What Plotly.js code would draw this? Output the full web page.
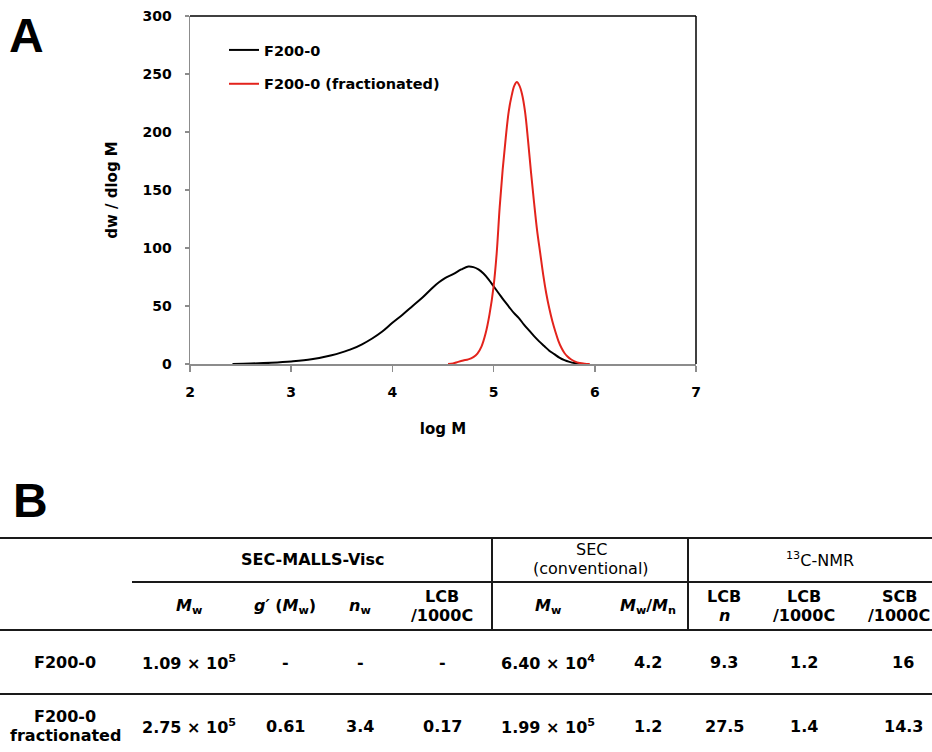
<!DOCTYPE html>
<html>
<head>
<meta charset="utf-8">
<script src="https://cdn.plot.ly/plotly-3.0.1.min.js"></script>
<style>html,body{margin:0;padding:0;background:#fff;}#chart{width:932px;height:752px;}</style>
</head>
<body>
<div id="chart"></div>
<script>
// ---- Panel A data ----
const logM_F200 = [2.42, 2.6, 2.8, 3.0, 3.2, 3.4, 3.5, 3.6, 3.7, 3.8, 3.9, 4.0, 4.1, 4.2, 4.3, 4.4, 4.46, 4.52, 4.6, 4.68, 4.75, 4.8, 4.85, 4.9, 4.95, 5.0, 5.05, 5.1, 5.15, 5.2, 5.25, 5.3, 5.35, 5.4, 5.45, 5.5, 5.55, 5.6, 5.65, 5.7, 5.75, 5.8, 5.85, 5.9];
const dw_F200   = [0, 0.4, 1.1, 2.2, 4, 7.5, 10, 13, 17, 22, 28, 35.5, 42.5, 50, 57.5, 66, 70.5, 74, 77.5, 81.5, 84, 83.5, 81.5, 78, 73, 67, 61, 55, 49.5, 44, 39.5, 34, 29, 24, 19.5, 15.5, 11.5, 8.5, 5.5, 3.3, 1.8, 0.8, 0.3, 0];
const logM_frac = [4.55, 4.6, 4.65, 4.7, 4.75, 4.8, 4.84, 4.88, 4.92, 4.96, 5.0, 5.03, 5.06, 5.09, 5.12, 5.15, 5.18, 5.205, 5.23, 5.255, 5.28, 5.31, 5.34, 5.37, 5.4, 5.43, 5.46, 5.49, 5.52, 5.55, 5.58, 5.61, 5.64, 5.67, 5.7, 5.73, 5.76, 5.8, 5.85, 5.9, 5.95];
const dw_frac   = [0, 0.5, 1.8, 3, 4, 6, 9, 15, 26, 43, 67, 95, 135, 168, 195, 218, 232, 240, 243, 240, 233, 218, 193, 165, 139, 115, 96, 77, 61, 48, 37, 28, 20, 14, 9.5, 6.5, 4.3, 2.3, 0.8, 0.2, 0];
const seriesNames = ['F200-0', 'F200-0 (fractionated)'];
const xTickVals = [2, 3, 4, 5, 6, 7];
const yTickVals = [0, 50, 100, 150, 200, 250, 300];

// ---- Panel B table data ----
const groupHeaders = ['SEC-MALLS-Visc', 'SEC<br>(conventional)', '<sup>13</sup>C-NMR'];
const colHeaders = ['<i>M</i><sub>w</sub>', '<i>g′</i> (<i>M</i><sub>w</sub>)', '<i>n</i><sub>w</sub>', 'LCB<br>/1000C',
                    '<i>M</i><sub>w</sub>', '<i>M</i><sub>w</sub>/<i>M</i><sub>n</sub>',
                    'LCB<br><i>n</i>', 'LCB<br>/1000C', 'SCB<br>/1000C'];
const rowLabels = ['F200-0', 'F200-0<br>fractionated'];
const rowF200 = ['1.09 × 10<sup>5</sup>', '-', '-', '-', '6.40 × 10<sup>4</sup>', '4.2', '9.3', '1.2', '16'];
const rowFrac = ['2.75 × 10<sup>5</sup>', '0.61', '3.4', '0.17', '1.99 × 10<sup>5</sup>', '1.2', '27.5', '1.4', '14.3'];

// ---- layout helpers (pixel -> paper) ----
const W = 932, H = 752;
const px = x => x / W;
const py = y => 1 - y / H;
const FONT = 'DejaVu Sans, Liberation Sans, Arial, sans-serif';

const traces = [
  {x: logM_F200, y: dw_F200, name: seriesNames[0], legendgroup: 'a', type: 'scatter', mode: 'lines',
   line: {color: '#000000', width: 2, shape: 'spline', smoothing: 1}},
  {x: logM_frac, y: dw_frac, name: seriesNames[1], legendgroup: 'b', type: 'scatter', mode: 'lines',
   line: {color: '#e3231c', width: 2, shape: 'spline', smoothing: 1}}
];

const shapes = [];
const annotations = [];

// frame top and right (black)
shapes.push({type: 'line', xref: 'x domain', yref: 'y domain', x0: 0, x1: 1, y0: 1, y1: 1, line: {color: '#000', width: 1.5}});
shapes.push({type: 'line', xref: 'x domain', yref: 'y domain', x0: 1, x1: 1, y0: 0, y1: 1, line: {color: '#000', width: 1.5}});

// Panel letters
annotations.push({xref: 'paper', yref: 'paper', x: px(26), y: py(36), xanchor: 'center', yanchor: 'middle', showarrow: false,
  text: 'A', font: {family: 'Liberation Sans, Arial, sans-serif', size: 48, weight: 'bold', color: '#000'}});
annotations.push({xref: 'paper', yref: 'paper', x: px(30), y: py(500), xanchor: 'center', yanchor: 'middle', showarrow: false,
  text: 'B', font: {family: 'Liberation Sans, Arial, sans-serif', size: 48, weight: 'bold', color: '#000'}});

// Table lines
function hline(y, x0, x1, w) {
  shapes.push({type: 'line', xref: 'paper', yref: 'paper', x0: px(x0), x1: px(x1), y0: py(y), y1: py(y), line: {color: '#1a1a1a', width: w || 2}});
}
function vline(x, y0, y1) {
  shapes.push({type: 'line', xref: 'paper', yref: 'paper', x0: px(x), x1: px(x), y0: py(y0), y1: py(y1), line: {color: '#1a1a1a', width: 2}});
}
hline(538, 0, 932);
hline(582, 132, 932);
hline(630, 0, 932);
hline(694, 0, 932);
vline(492, 538, 630);
vline(688, 538, 630);

function cell(text, cx, cy, bold, lineGap) {
  const lines = text.split('<br>');
  const gap = lineGap || 18.5;
  lines.forEach((t, i) => {
    const y = cy + (i - (lines.length - 1) / 2) * gap;
    annotations.push({xref: 'paper', yref: 'paper', x: px(cx), y: py(y), xanchor: 'center', yanchor: 'middle',
      showarrow: false, text: t, font: {family: FONT, size: 16, weight: bold ? 'bold' : 'normal', color: '#000'}});
  });
}

const groupX = [313, 591, 820];
const groupY = [559, 558.5, 559];
const groupBold = [true, false, false];
groupHeaders.forEach((t, i) => cell(t, groupX[i], groupY[i], groupBold[i], 19));

const colX = [189, 285, 360, 442, 548, 648, 724, 804, 899];
colHeaders.forEach((t, i) => cell(t, colX[i], 606, true, 18.5));

const rowY = [662, 726];
rowLabels.forEach((t, i) => cell(t, 65, rowY[i], true, 19.5));
rowF200.forEach((t, i) => cell(t, colX[i] + (i === 8 ? 4 : 0), rowY[0], true));
rowFrac.forEach((t, i) => cell(t, colX[i] + (i === 8 ? 4 : 0), rowY[1], true));

const layout = {
  width: W, height: H,
  margin: {l: 0, r: 0, t: 0, b: 0},
  paper_bgcolor: '#ffffff', plot_bgcolor: '#ffffff',
  showlegend: true,
  legend: {x: px(224), y: py(34), xanchor: 'left', yanchor: 'top', bgcolor: 'rgba(0,0,0,0)',
           traceorder: 'grouped', tracegroupgap: 12,
           font: {family: FONT, size: 14.5, weight: 'bold', color: '#000'}},
  xaxis: {domain: [px(190), px(696)], range: [2, 7], tickvals: xTickVals, showgrid: false, zeroline: false,
          showline: true, linecolor: '#8c8c8c', linewidth: 1.5, ticks: 'outside', ticklen: 6, tickcolor: '#8c8c8c', tickwidth: 1.5,
          tickfont: {family: FONT, size: 14, weight: 'bold', color: '#000'}, ticklabelstandoff: 9,
          title: {text: 'log M', font: {family: FONT, size: 15, weight: 'bold', color: '#000'}, standoff: 24},
          automargin: false, fixedrange: true},
  yaxis: {domain: [py(364), py(16)], range: [0, 300], tickvals: yTickVals, showgrid: false, zeroline: false,
          showline: true, linecolor: '#8c8c8c', linewidth: 1.5, ticks: 'outside', ticklen: 4, tickcolor: '#8c8c8c', tickwidth: 1.5,
          tickfont: {family: FONT, size: 14, weight: 'bold', color: '#000'}, ticklabelstandoff: 10,
          title: {text: 'dw / dlog M', font: {family: FONT, size: 15, weight: 'bold', color: '#000'}, standoff: 21},
          automargin: false, fixedrange: true},
  shapes: shapes,
  annotations: annotations
};

Plotly.newPlot('chart', traces, layout, {displayModeBar: false, staticPlot: true});
</script>
</body>
</html>
